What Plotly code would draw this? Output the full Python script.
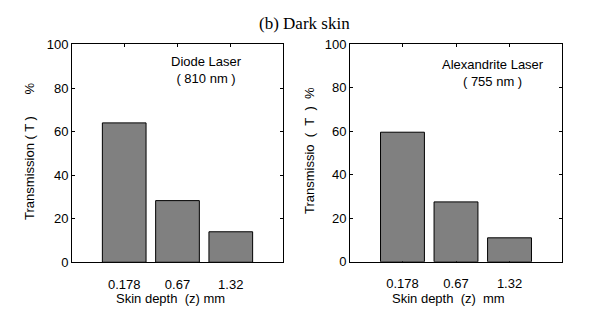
import plotly.graph_objects as go

# Figure sized to fit the window inside the page's default 8px body margin
W, H = 597, 306
OFF = 8

# ---- data ----
depth_labels = ["0.178", "0.67", "1.32"]
diode_transmission = [64.0, 28.3, 14.0]
alexandrite_transmission = [59.5, 27.5, 11.0]
y_ticks = [0, 20, 40, 60, 80, 100]

SANS = "Arial, Liberation Sans, sans-serif"
SERIF = "Times New Roman, Liberation Serif, serif"

def px(x):
    return (x - OFF) / W

def py(y):
    return 1 - (y - OFF) / H

fig = go.Figure()

bar_style = dict(marker=dict(color="#808080", line=dict(color="black", width=1)),
                 width=0.82, showlegend=False, hoverinfo="y")

fig.add_trace(go.Bar(x=depth_labels, y=diode_transmission, xaxis="x", yaxis="y", **bar_style))
fig.add_trace(go.Bar(x=depth_labels, y=alexandrite_transmission, xaxis="x2", yaxis="y2", **bar_style))

xcommon = dict(type="category", range=[-0.98, 2.98], showline=True, linecolor="black", linewidth=1,
               mirror="ticks", ticks="inside", ticklen=3, tickcolor="black", showgrid=False,
               zeroline=False, tickfont=dict(family=SANS, size=13, color="black"),
               ticklabelstandoff=10, layer="below traces", fixedrange=True)
ycommon = dict(range=[0, 100], tickvals=y_ticks, showline=True, linecolor="black", linewidth=1,
               mirror="ticks", ticks="inside", ticklen=3, tickcolor="black", showgrid=False,
               zeroline=False, tickfont=dict(family=SANS, size=13, color="black"), fixedrange=True)

fig.update_layout(
    width=W, height=H,
    margin=dict(l=0, r=0, t=0, b=0),
    paper_bgcolor="white", plot_bgcolor="white",
    xaxis=dict(domain=[px(72), px(283)], anchor="y", **xcommon),
    yaxis=dict(domain=[py(268), py(39)], anchor="x", **ycommon),
    xaxis2=dict(domain=[px(350), px(562)], anchor="y2", **xcommon),
    yaxis2=dict(domain=[py(267.5), py(38.5)], anchor="x2", **ycommon),
    bargap=0.18,
)

nb = "\u00a0"
annotations = [
    dict(text="(b) Dark skin", x=px(304), y=py(17), yanchor="middle",
         font=dict(family=SERIF, size=17, color="black")),
    dict(text="Diode Laser<br>( 810 nm )", x=px(206), y=py(65.5), yanchor="middle",
         font=dict(family=SANS, size=13, color="black")),
    dict(text="Alexandrite Laser<br>( 755 nm )", x=px(493), y=py(69.5), yanchor="middle",
         font=dict(family=SANS, size=13, color="black")),
    # bottom titles kept fully inside the figure so nothing overflows the page
    dict(text="Skin depth" + nb * 2 + "(z) mm", x=px(170.5), y=0, yanchor="bottom",
         font=dict(family=SANS, size=13, color="black")),
    dict(text="Skin depth" + nb * 2 + "(z)" + nb * 2 + "mm", x=px(448.5), y=0, yanchor="bottom",
         font=dict(family=SANS, size=13, color="black")),
    dict(text="Transmission ( T )" + nb * 6 + "%", x=px(30), y=py(152), yanchor="middle", textangle=-90,
         font=dict(family=SANS, size=13, color="black")),
    dict(text="Transmissio" + nb * 2 + "(" + nb * 2 + "T" + nb * 2 + ")" + nb * 2 + "%", x=px(310), y=py(151),
         yanchor="middle", textangle=-90, font=dict(family=SANS, size=13, color="black")),
]
for a in annotations:
    a.update(xref="paper", yref="paper", xanchor="center", showarrow=False, borderpad=0, borderwidth=0)
fig.update_layout(annotations=annotations)

fig.write_html("out.html")
